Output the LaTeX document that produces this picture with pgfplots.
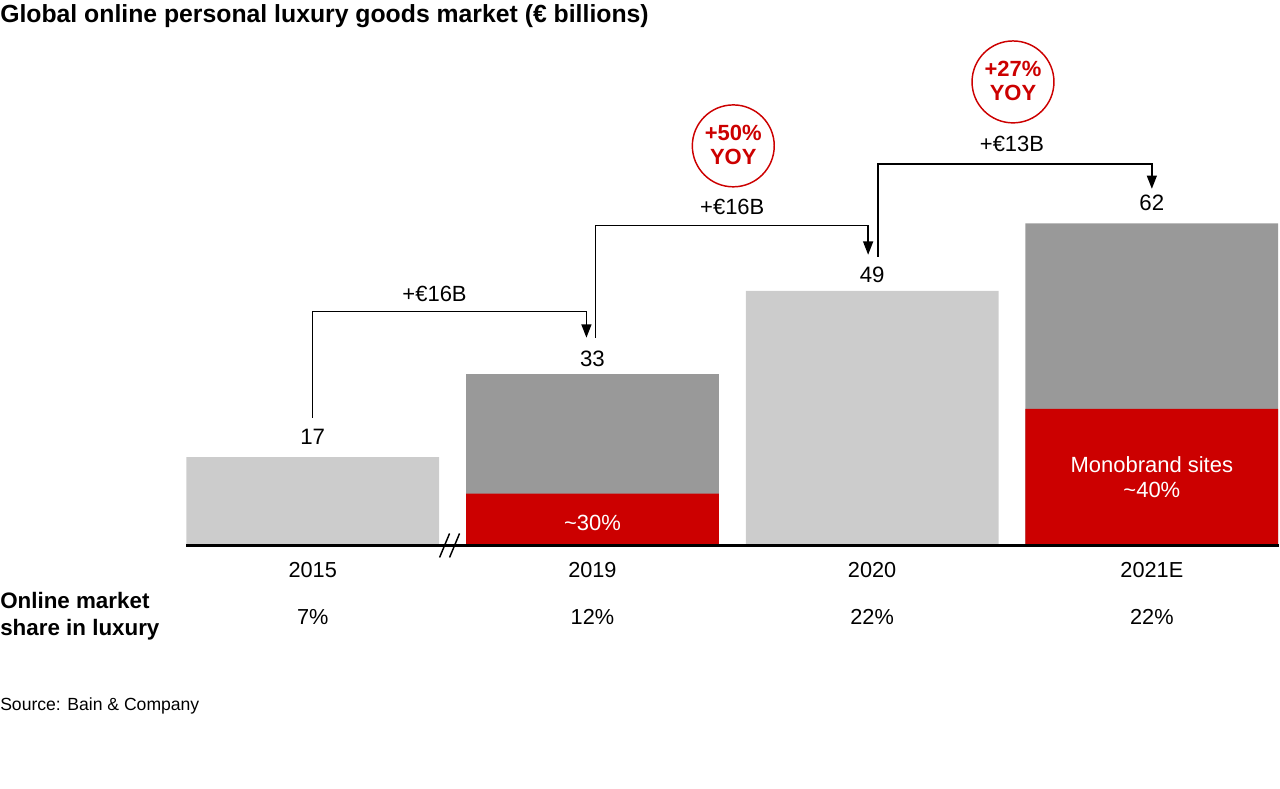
\documentclass[border=0pt]{standalone}
\usepackage{pgfplots}
\pgfplotsset{compat=1.18}
\usepackage{fontspec}
\setmainfont{Liberation Sans}
\usetikzlibrary{arrows.meta}
\definecolor{lgray}{HTML}{CCCCCC}
\definecolor{dgray}{HTML}{999999}
\definecolor{bred}{HTML}{CC0000}
\begin{document}
\begin{tikzpicture}
\begin{axis}[
  scale only axis, width=960pt, height=591.75pt,
  xmin=-1.1179, xmax=3.4536, ymin=-46.73, ymax=105,
  hide axis, clip=false,
]
\path (rel axis cs:0,0) rectangle (rel axis cs:1,1);
% bars
\addplot[ybar, bar width=0.9036, bar shift=0pt, fill=lgray, draw=none] coordinates {(0,17) (2,49)};
\addplot[ybar, bar width=0.9036, bar shift=0pt, fill=dgray, draw=none] coordinates {(1,33) (3,62)};
\addplot[ybar, bar width=0.9036, bar shift=0pt, fill=bred, draw=none] coordinates {(1,10) (3,26.3)};
% baseline and break marks
\draw[line width=1.9pt] (axis cs:-0.4518,0) -- (axis cs:3.4536,0);
\draw[line width=1.1pt] (axis cs:0.4536,-2.31) -- (axis cs:0.4893,2.31);
\draw[line width=1.1pt] (axis cs:0.4893,-2.31) -- (axis cs:0.5250,2.31);
% value labels
\begin{scope}[every node/.style={inner sep=0pt, font=\fontsize{16.7}{19}\selectfont}]
\node at (axis cs:0,20.83) {17};
\node at (axis cs:1,35.96) {33};
\node at (axis cs:2,52.12) {49};
\node at (axis cs:3,65.96) {62};
\end{scope}
% arrows
\begin{scope}[line width=1.1pt, -{Triangle[length=10pt,width=7.5pt]}]
\draw (axis cs:0,24.6) -- (axis cs:0,45.0) -- (axis cs:0.9786,45.0) -- (axis cs:0.9786,40.0);
\draw (axis cs:1.0107,40.0) -- (axis cs:1.0107,61.54) -- (axis cs:1.9857,61.54) -- (axis cs:1.9857,55.96);
\draw (axis cs:2.0214,55.58) -- (axis cs:2.0214,73.46) -- (axis cs:3.0,73.46) -- (axis cs:3.0,68.65);
\end{scope}
\begin{scope}[every node/.style={inner sep=0pt, font=\fontsize{16.5}{18}\selectfont}]
\node at (axis cs:0.4357,48.46) {+€16B};
\node at (axis cs:1.5,65.19) {+€16B};
\node at (axis cs:2.5,77.31) {+€13B};
\end{scope}
% YOY circles
\draw[bred, line width=1.1pt] (axis cs:1.5036,76.92) circle[radius=30.75pt];
\draw[bred, line width=1.1pt] (axis cs:2.5036,89.23) circle[radius=30.75pt];
\node[bred, inner sep=0pt, align=center, font=\bfseries\fontsize{16.5}{18}\selectfont] at (axis cs:1.5036,77.1) {+50\%\\YOY};
\node[bred, inner sep=0pt, align=center, font=\bfseries\fontsize{16.5}{18}\selectfont] at (axis cs:2.5036,89.4) {+27\%\\YOY};
% in-bar labels
\node[white, inner sep=0pt, font=\fontsize{16.5}{18}\selectfont] at (axis cs:1,4.42) {\textasciitilde 30\%};
\node[white, inner sep=0pt, align=center, font=\fontsize{16.5}{18.75}\selectfont] at (axis cs:3,13.17) {Monobrand sites\\\textasciitilde 40\%};
% year and share labels
\begin{scope}[every node/.style={inner sep=0pt, font=\fontsize{16.3}{18}\selectfont}]
\node at (axis cs:0,-4.81) {2015};
\node at (axis cs:1,-4.81) {2019};
\node at (axis cs:2,-4.81) {2020};
\node at (axis cs:3,-4.81) {2021E};
\node at (axis cs:0,-13.85) {7\%};
\node at (axis cs:1,-13.85) {12\%};
\node at (axis cs:2,-13.85) {22\%};
\node at (axis cs:3,-13.85) {22\%};
\end{scope}
\node[anchor=west, inner sep=0pt, align=left, font=\bfseries\fontsize{16.8}{20}\selectfont] at (axis cs:-1.1179,-13.65) {Online market\\share in luxury};
\node[anchor=west, inner sep=0pt, font=\fontsize{13.2}{15}\selectfont] at (axis cs:-1.1179,-30.96) {Source: Bain \& Company};
% title
\node[anchor=west, inner sep=0pt, font=\bfseries\fontsize{18.6}{21}\selectfont] at (axis cs:-1.1179,101.92) {Global online personal luxury goods market (€ billions)};
\end{axis}
\end{tikzpicture}
\end{document}
